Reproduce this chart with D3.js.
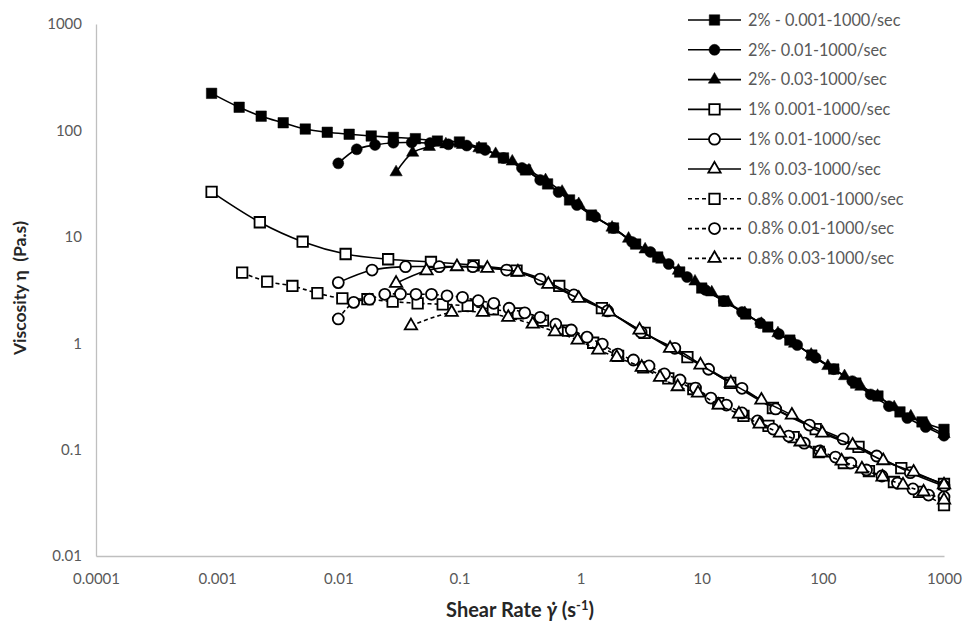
<!DOCTYPE html>
<html><head><meta charset="utf-8">
<script src="https://cdn.jsdelivr.net/npm/d3@7/dist/d3.min.js"></script>
<style>
body{margin:0;background:#fff;}
svg text{font-family:Lato,"Open Sans",sans-serif;}
</style></head>
<body><svg id="chart" width="968" height="628"></svg>
<script>
// ---------- DATA ----------
const seriesNames = ["2% - 0.001-1000/sec","2%- 0.01-1000/sec","2%- 0.03-1000/sec",
  "1% 0.001-1000/sec","1% 0.01-1000/sec","1% 0.03-1000/sec",
  "0.8% 0.001-1000/sec","0.8% 0.01-1000/sec","0.8% 0.03-1000/sec"];
const xTickLabels = ["0.0001","0.001","0.01","0.1","1","10","100","1000"];
const yTickLabels = ["0.01","0.1","1","10","100","1000"];

const rate2pct001 = [0.0009,0.00152,0.00231,0.00351,0.00534,0.00811,0.0123,0.0187,0.0285,0.0433,0.0658,0.1,0.152,0.231,0.351,0.534,0.811,1.23,1.87,2.85,4.33,6.58,10,15.2,23.1,35.1,53.4,81.1,123,187,285,433,658,1000];
const visc2pct001 = [223,165,136,118,103,96,92,88.6,86,83.6,79.4,77.8,68.4,55.1,42.5,31.4,22.2,16.0,12.1,8.55,6.46,4.67,3.30,2.49,1.88,1.42,1.07,0.774,0.572,0.422,0.319,0.226,0.182,0.155];

const rate2pct01 = [0.01,0.0142,0.0201,0.0285,0.0404,0.0572,0.0811,0.115,0.163,0.231,0.328,0.464,0.658,0.933,1.32,1.87,2.66,3.77,5.34,7.57,10.7,15.2,21.5,30.5,43.3,61.4,87,123,175,248,351,498,706,1000];
const visc2pct01 = [49,66.4,73,76.6,77,76,74,72,65.5,55,44.4,34.2,26.3,19.9,15.4,12.1,8.94,7.2,5.55,4.19,3.17,2.49,1.96,1.54,1.22,0.96,0.73,0.57,0.44,0.33,0.256,0.198,0.163,0.135];

const rate2pct03 = [0.03,0.0411,0.0564,0.0773,0.106,0.145,0.199,0.273,0.375,0.514,0.704,0.966,1.32,1.82,2.49,3.41,4.68,6.42,8.8,12.1,16.5,22.7,31.1,42.6,58.4,80.1,110,151,206,283,388,532,730,1000];
const visc2pct03 = [40.4,61.7,70,74,73,68,60,51,42,34,26.5,20.3,15.4,12.2,9.6,7.6,6.1,4.8,3.8,3.0,2.4,1.92,1.52,1.24,0.99,0.78,0.61,0.49,0.39,0.32,0.25,0.205,0.168,0.14];

const rate1pct001 = [0.0009,0.00225,0.00508,0.0115,0.0258,0.0582,0.131,0.296,0.667,1.50,3.38,7.62,17.2,38.7,87.3,197,444,1000];
const visc1pct001 = [26.4,13.7,8.99,6.89,6.15,5.80,5.40,4.80,3.45,2.14,1.25,0.741,0.423,0.246,0.156,0.106,0.0671,0.0475];

const rate1pct01 = [0.01,0.0190,0.0359,0.0681,0.129,0.245,0.464,0.880,1.67,3.16,6.00,11.4,21.5,40.8,77.4,147,278,527,1000];
const visc1pct01 = [3.71,4.87,5.24,5.24,5.24,4.87,4.01,2.84,2.01,1.27,0.895,0.569,0.377,0.241,0.170,0.126,0.0871,0.0607,0.0455];

const rate1pct03 = [0.03,0.0535,0.0954,0.170,0.304,0.542,0.966,1.72,3.07,5.48,9.77,17.4,31.1,55.5,98.9,176,315,561,1000];
const visc1pct03 = [3.66,4.80,5.24,5.06,4.67,3.58,2.64,1.96,1.33,0.895,0.624,0.423,0.292,0.211,0.143,0.110,0.0787,0.0615,0.0466];

const rate08pct001 = [0.00161,0.00259,0.00418,0.00672,0.0108,0.0174,0.0281,0.0452,0.0728,0.117,0.189,0.304,0.489,0.788,1.27,2.04,3.29,5.30,8.53,13.7,22.1,35.6,57.4,92.4,149,240,386,621,1000];
const visc08pct001 = [4.60,3.79,3.45,2.95,2.64,2.59,2.46,2.37,2.32,2.24,2.08,1.91,1.63,1.31,1.01,0.759,0.594,0.468,0.371,0.274,0.207,0.167,0.131,0.0949,0.0748,0.0629,0.0496,0.0400,0.0301];

const rate08pct01 = [0.01,0.0134,0.0181,0.0242,0.0326,0.0438,0.0588,0.0790,0.106,0.143,0.192,0.257,0.346,0.464,0.624,0.838,1.13,1.51,2.03,2.73,3.67,4.92,6.62,8.89,11.9,16.0,21.5,28.9,38.9,52.2,70.2,94.3,127,170,229,307,413,554,745,1000];
const visc08pct01 = [1.69,2.42,2.59,2.88,2.90,2.88,2.88,2.79,2.70,2.51,2.37,2.13,1.93,1.75,1.51,1.33,1.14,0.982,0.791,0.695,0.611,0.514,0.451,0.379,0.305,0.262,0.221,0.186,0.156,0.134,0.115,0.0970,0.0851,0.0748,0.0643,0.0565,0.0485,0.0427,0.0374,0.0359];

const rate08pct03 = [0.0398,0.0863,0.156,0.253,0.403,0.615,0.946,1.40,1.99,3.20,4.53,6.34,9.32,13.8,20.3,30.1,44.3,65.5,96.5,143,210,311,459,678,1000];
const visc08pct03 = [1.46,1.95,1.95,1.75,1.51,1.28,1.07,0.863,0.737,0.594,0.478,0.390,0.340,0.262,0.216,0.174,0.143,0.118,0.0929,0.0782,0.0658,0.0552,0.0465,0.0400,0.0336];

// ---------- BUILD ----------
const rates = [rate2pct001,rate2pct01,rate2pct03,rate1pct001,rate1pct01,rate1pct03,rate08pct001,rate08pct01,rate08pct03];
const viscs = [visc2pct001,visc2pct01,visc2pct03,visc1pct001,visc1pct01,visc1pct03,visc08pct001,visc08pct01,visc08pct03];
const shapes = ["square","circle","triangle","square","circle","triangle","square","circle","triangle"];
const filled = [true,true,true,false,false,false,false,false,false];
const dashed = [false,false,false,false,false,false,true,true,true];

const series = seriesNames.map((name,i)=>({
  name, shape:shapes[i], filled:filled[i], dashed:dashed[i],
  points: rates[i].map((r,j)=>({x:r,y:viscs[i][j]}))
}));

const svg = d3.select("#chart");
const x = d3.scaleLog().domain([1e-4,1e3]).range([96,944]);
const y = d3.scaleLog().domain([0.01,1000]).range([556,24]);

const axisColor = "#bfbfbf", tickColor = "#595959";

const gx = svg.append("g").attr("transform","translate(0,556)")
  .call(d3.axisBottom(x).tickValues(xTickLabels.map(Number)).tickFormat((d,i)=>xTickLabels[i]).tickSize(0).tickPadding(17));
const gy = svg.append("g").attr("transform","translate(96,0)")
  .call(d3.axisLeft(y).tickValues(yTickLabels.map(Number)).tickFormat((d,i)=>yTickLabels[i]).tickSize(0).tickPadding(14));
[gx,gy].forEach(g=>{
  g.select(".domain").attr("stroke",axisColor).attr("stroke-width",1.3);
  g.selectAll("text").attr("fill",tickColor).style("font-size","15px").style("font-family","Lato, sans-serif");
});

function symbolPath(shape){
  if(shape==="square") return d3.symbol(d3.symbolSquare,110)();
  if(shape==="circle") return d3.symbol(d3.symbolCircle,95)();
  return d3.symbol(d3.symbolTriangle,66)();
}

const line = d3.line().x(d=>x(d.x)).y(d=>y(d.y)).curve(d3.curveCatmullRom.alpha(0.5));

series.forEach(s=>{
  const g = svg.append("g");
  g.append("path").attr("d",line(s.points)).attr("fill","none").attr("stroke","#000")
    .attr("stroke-width",1.6).attr("stroke-dasharray",s.dashed?"4,3":null);
  const sp = symbolPath(s.shape);
  g.selectAll("path.m").data(s.points).join("path").attr("class","m")
    .attr("d",sp)
    .attr("transform",d=>`translate(${x(d.x)},${y(d.y)})`)
    .attr("fill",s.filled?"#000":"#fff").attr("stroke","#000").attr("stroke-width",s.filled?0.5:1.8);
});

// legend
const lg = svg.append("g");
series.forEach((s,i)=>{
  const cy = 20 + i*29.8;
  lg.append("line").attr("x1",688).attr("x2",741).attr("y1",cy).attr("y2",cy)
    .attr("stroke","#000").attr("stroke-width",1.6).attr("stroke-dasharray",s.dashed?"4,3":null);
  lg.append("path").attr("d",symbolPath(s.shape)).attr("transform",`translate(714.5,${cy})`)
    .attr("fill",s.filled?"#000":"#fff").attr("stroke","#000").attr("stroke-width",s.filled?0.5:1.8);
  lg.append("text").attr("x",748).attr("y",cy).attr("dy","0.35em")
    .attr("fill",tickColor).style("font-size","16.3px").text(s.name);
});

// axis titles
const xt = svg.append("text").attr("x",520).attr("y",617).attr("text-anchor","middle")
  .attr("fill","#262626").style("font-size","20px").style("font-weight","bold");
xt.append("tspan").text("Shear Rate ");
xt.append("tspan").style("font-style","italic").text("\u03B3\u0307");
xt.append("tspan").text(" (s");
xt.append("tspan").attr("dy",-7).style("font-size","13px").text("-1");
xt.append("tspan").attr("dy",7).text(")");

svg.append("text").attr("transform","translate(26,288) rotate(-90)").attr("text-anchor","middle")
  .attr("fill","#262626").style("font-size","17.5px").style("font-weight","bold")
  .style("white-space","pre").text("Viscosity \u03B7  (Pa.s)");
</script>
</body></html>
